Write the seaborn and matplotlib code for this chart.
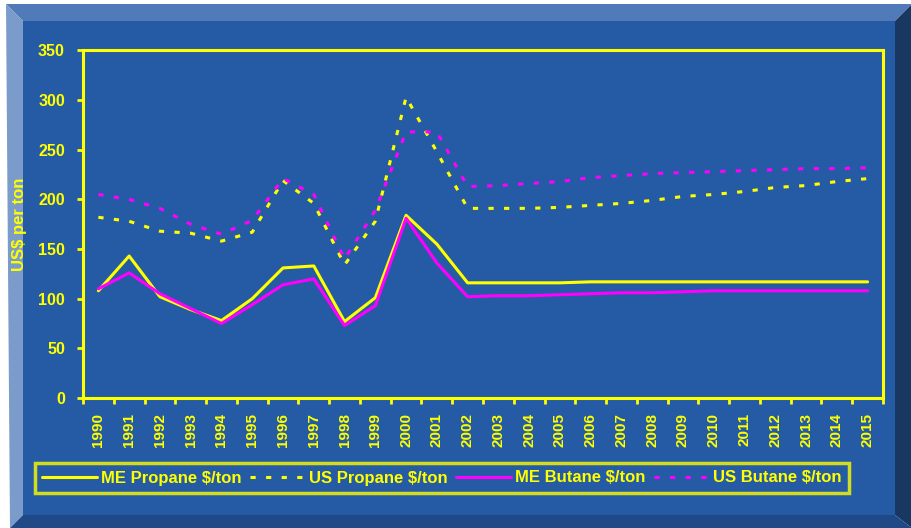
import numpy as np
import pandas as pd
import matplotlib
matplotlib.use("Agg")
import matplotlib.pyplot as plt
from matplotlib.patches import Polygon
import seaborn as sns

years = [str(y) for y in range(1990, 2016)]

me_propane = [108, 143, 102, 89, 78, 100, 131, 133, 77, 101, 184, 155, 116,
              116, 116, 116, 117, 117, 117, 117, 117, 117, 117, 117, 117, 117]
us_propane = [182, 178, 168, 166, 158, 167, 219, 196, 134, 178, 303, 248, 191,
              191, 191, 192, 194, 196, 199, 203, 205, 208, 212, 214, 218, 221]
me_butane = [110, 126, 105, 90, 75, 94, 114, 120, 73, 93, 181, 136, 102,
             103, 103, 104, 105, 106, 106, 107, 108, 108, 108, 108, 108, 108]
us_butane = [205, 200, 191, 175, 165, 179, 221, 205, 140, 189, 268, 268, 213,
             214, 216, 218, 222, 224, 226, 227, 228, 229, 230, 231, 231, 232]

series_names = ["ME Propane $/ton", "US Propane $/ton",
                "ME Butane $/ton", "US Butane $/ton"]
series_values = [me_propane, us_propane, me_butane, us_butane]

YELLOW = "#FFFF00"
MAGENTA = "#FF00FF"
FACE = "#255BA5"

sns.set_theme(style="white")
plt.rcParams["font.family"] = ["Liberation Sans", "DejaVu Sans"]
plt.rcParams["font.weight"] = "bold"

W, H = 912, 528
fig = plt.figure(figsize=(W / 100, H / 100), dpi=100)
fig.patch.set_facecolor("white")


def px(x, y):
    return (x / W, 1 - y / H)


# bevelled panel behind the chart
x0, y0, x1, y1 = 6, 4, 912, 528
b_l, b_t, b_r, b_b = 17, 17, 17, 13
ix0, iy0, ix1, iy1 = x0 + b_l, y0 + b_t, x1 - b_r, y1 - b_b
panels = [
    ([(x0, y0), (x1, y0), (ix1, iy0), (ix0, iy0)], "#507BB8"),   # top
    ([(x0, y0), (ix0, iy0), (ix0, iy1), (x0 + 4, y1)], "#7B9BCB"),  # left
    ([(x1, y0), (x1, y1), (ix1, iy1), (ix1, iy0)], "#183862"),   # right
    ([(x0 + 4, y1), (ix0, iy1), (ix1, iy1), (x1, y1)], "#1F4A87"),  # bottom
    ([(ix0, iy0), (ix1, iy0), (ix1, iy1), (ix0, iy1)], FACE),    # face
]
for pts, col in panels:
    fig.patches.append(Polygon([px(*p) for p in pts], closed=True,
                               transform=fig.transFigure, facecolor=col,
                               edgecolor="none", zorder=-10))

ax = fig.add_axes([83 / W, 1 - 398 / H, 800 / W, 347.5 / H])
ax.set_facecolor(FACE)
ax.set_zorder(1)

df = pd.DataFrame({"idx": np.arange(len(years))})
styles = [
    (YELLOW, "-"),
    (YELLOW, (0, (1.7, 3.4))),
    (MAGENTA, "-"),
    (MAGENTA, (0, (1.7, 3.4))),
]
for name, vals, (col, ls) in zip(series_names, series_values, styles):
    df[name] = vals
    sns.lineplot(data=df, x="idx", y=name, ax=ax, color=col, linestyle=ls,
                 linewidth=2.2, label=name, legend=False)

ax.set_xlim(-0.5, len(years) - 0.5)
ax.set_ylim(0, 350)
ax.set_yticks(range(0, 351, 50))
ax.set_xticks(np.arange(len(years)))
ax.set_xticklabels(years, rotation=90)
ax.set_xticks(np.arange(len(years) + 1) - 0.5, minor=True)
ax.set_xlabel("")
ax.set_ylabel("")

for s in ax.spines.values():
    s.set_visible(True)
    s.set_color(YELLOW)
    s.set_linewidth(2.2)

ax.tick_params(axis="y", which="major", direction="out", length=4, width=2,
               color=YELLOW, labelcolor=YELLOW, labelsize=11.5, pad=9,
               left=True)
ax.tick_params(axis="x", which="major", length=0, labelcolor=YELLOW,
               labelsize=11, pad=11, bottom=True)
ax.tick_params(axis="x", which="minor", direction="out", length=4, width=2,
               color=YELLOW, bottom=True)
for lbl in ax.get_xticklabels() + ax.get_yticklabels():
    lbl.set_fontweight("bold")

fig.text(20 / W, 1 - 224 / H, "US$ per ton", rotation=90, color=YELLOW,
         fontsize=12, fontweight="bold", ha="center", va="center")

handles, labels = ax.get_legend_handles_labels()
leg = fig.legend(handles, labels, ncol=4, loc="center",
                 bbox_to_anchor=(442 / W, 1 - 478 / H), frameon=True,
                 fancybox=False, facecolor=FACE, edgecolor=YELLOW,
                 fontsize=12, handlelength=3.3, handletextpad=0.25,
                 columnspacing=0.5, borderpad=0.45, borderaxespad=0)
leg.get_frame().set_linewidth(2.5)
for t in leg.get_texts():
    t.set_color(YELLOW)
    t.set_fontweight("bold")

fig.savefig("out.png", dpi=100, facecolor="white")
